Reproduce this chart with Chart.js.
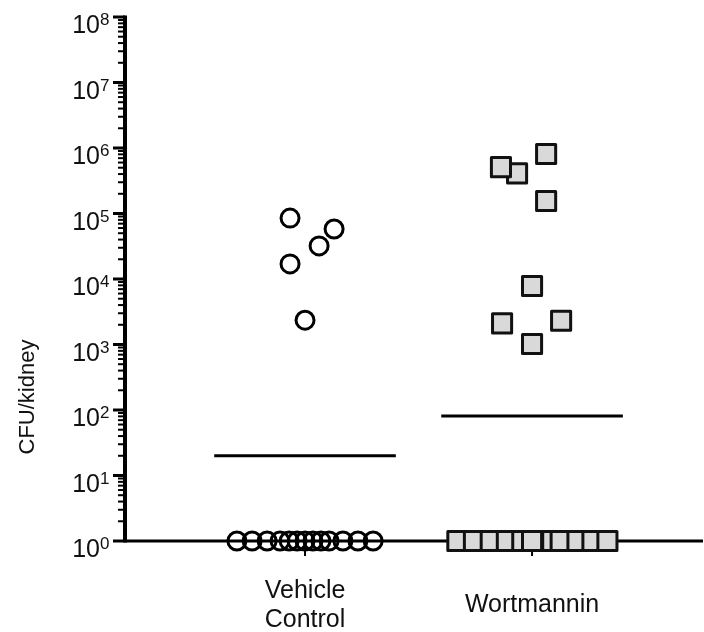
<!DOCTYPE html>
<html>
<head>
<meta charset="utf-8">
<script src="https://cdn.jsdelivr.net/npm/chart.js@4/dist/chart.umd.min.js"></script>
<style>
    html, body { margin: 0; padding: 0; background: #fff; overflow: hidden; }
    canvas { display: block; }
</style>
</head>
<body>
<canvas id="cfuChart" width="704" height="632"></canvas>
<script>
// Groups (x position 1 and 2 on a linear axis)
const groups = ['Vehicle\nControl', 'Wortmannin'];
const groupX = [1, 2];

// Vehicle control: mice with counts, and mice at the detection floor (10^0)
const vehicleX = [0.934, 1.128, 1.062, 0.934, 1.0];
const vehicleCfu = [85000, 58000, 32000, 17000, 2350];
const vehicleZeroX = [0.70, 0.767, 0.833, 0.89, 0.93, 0.965, 1.0, 1.035, 1.07, 1.106, 1.167, 1.233, 1.30];

// Wortmannin
const wortX = [1.934, 1.863, 2.062, 2.062, 2.0, 1.868, 2.128, 2.0];
const wortCfu = [410000, 510000, 810000, 155000, 7800, 2100, 2300, 1020];
const wortZeroX = [1.671, 1.744, 1.818, 1.889, 1.957, 2.0, 2.089, 2.126, 2.2, 2.266, 2.332];

// Group means (horizontal bars)
const groupMeans = [20, 81];
const meanHalfWidth = 0.4;

// Y decades for tick labels
const decades = [0, 1, 2, 3, 4, 5, 6, 7, 8];

const fontFamily = "'Liberation Sans', Arial, Helvetica, sans-serif";

const toPoints = (xs, ys) => xs.map((x, i) => ({ x: x, y: Array.isArray(ys) ? ys[i] : ys }));

// Axes drawn by hand so the log ticks and superscript labels look like the figure
const axesPlugin = {
    id: 'prismAxes',
    beforeDatasetsDraw(chart) {
        const ctx = chart.ctx;
        const xs = chart.scales.x;
        const ys = chart.scales.y;
        const left = chart.chartArea.left;
        const top = ys.getPixelForValue(1e8);
        const bottom = ys.getPixelForValue(1);

        ctx.save();
        ctx.strokeStyle = '#000';
        ctx.lineCap = 'butt';

        // minor + major ticks
        decades.forEach(n => {
            for (let k = 1; k <= 9; k++) {
                const v = k * Math.pow(10, n);
                if (v > 1e8) break;
                const py = ys.getPixelForValue(v);
                ctx.beginPath();
                ctx.lineWidth = k === 1 ? 3 : 2;
                ctx.moveTo(left - (k === 1 ? 12 : 7), py);
                ctx.lineTo(left, py);
                ctx.stroke();
            }
        });

        // y axis line
        ctx.beginPath();
        ctx.lineWidth = 4;
        ctx.moveTo(left, top - 1.5);
        ctx.lineTo(left, bottom + 1.5);
        ctx.stroke();

        // x axis line
        ctx.beginPath();
        ctx.lineWidth = 3;
        ctx.moveTo(left, bottom);
        ctx.lineTo(chart.chartArea.right, bottom);
        ctx.stroke();

        // category ticks
        groupX.forEach(g => {
            const px = xs.getPixelForValue(g);
            ctx.beginPath();
            ctx.lineWidth = 2;
            ctx.moveTo(px, bottom);
            ctx.lineTo(px, bottom + 15);
            ctx.stroke();
        });

        // y tick labels 10^n
        ctx.fillStyle = '#111';
        decades.forEach(n => {
            const py = ys.getPixelForValue(Math.pow(10, n));
            ctx.font = '25px ' + fontFamily;
            ctx.textAlign = 'right';
            ctx.textBaseline = 'alphabetic';
            ctx.fillText('10', 100, py + 16);
            ctx.font = '17px ' + fontFamily;
            ctx.textAlign = 'left';
            ctx.fillText(String(n), 100, py + 8);
        });

        // category labels
        ctx.font = '25px ' + fontFamily;
        ctx.textAlign = 'center';
        groups.forEach((label, i) => {
            const px = xs.getPixelForValue(groupX[i]);
            const lines = label.split('\n');
            if (lines.length === 1) {
                ctx.fillText(lines[0], px, 612);
            } else {
                lines.forEach((l, j) => ctx.fillText(l, px, 598 + j * 29));
            }
        });

        // y title
        ctx.save();
        ctx.translate(34, 397);
        ctx.rotate(-Math.PI / 2);
        ctx.font = '22px ' + fontFamily;
        ctx.textAlign = 'center';
        ctx.fillText('CFU/kidney', 0, 0);
        ctx.restore();

        ctx.restore();
        ctx.lineJoin = 'round';
    }
};

const circleStyle = {
    type: 'scatter',
    pointStyle: 'circle',
    pointRadius: 9,
    pointHoverRadius: 9,
    borderWidth: 3,
    borderColor: '#000',
    backgroundColor: 'rgba(0,0,0,0)',
    clip: false
};

const squareStyle = {
    type: 'scatter',
    pointStyle: 'rect',
    pointRadius: 13.5,
    pointHoverRadius: 13.5,
    borderWidth: 3,
    borderColor: '#111',
    backgroundColor: '#d9d9d9',
    clip: false
};

const meanLine = (i) => ({
    type: 'line',
    data: [
        { x: groupX[i] - meanHalfWidth, y: groupMeans[i] },
        { x: groupX[i] + meanHalfWidth, y: groupMeans[i] }
    ],
    borderColor: '#000',
    borderWidth: 3,
    pointRadius: 0,
    fill: false,
    clip: false
});

new Chart(document.getElementById('cfuChart'), {
    data: {
        datasets: [
            meanLine(0),
            meanLine(1),
            Object.assign({ data: toPoints(vehicleZeroX, 1) }, circleStyle),
            Object.assign({ data: toPoints(vehicleX, vehicleCfu) }, circleStyle),
            Object.assign({ data: toPoints(wortZeroX, 1) }, squareStyle),
            Object.assign({ data: toPoints(wortX, wortCfu) }, squareStyle)
        ]
    },
    plugins: [axesPlugin],
    options: {
        responsive: false,
        animation: false,
        devicePixelRatio: 1,
        layout: {
            autoPadding: false,
            padding: { left: 125, right: 1, top: 17, bottom: 91 }
        },
        scales: {
            x: {
                type: 'linear',
                min: 0.207,
                max: 2.753,
                display: false
            },
            y: {
                type: 'logarithmic',
                min: 1,
                max: 1e8,
                display: false
            }
        },
        plugins: {
            legend: { display: false },
            tooltip: { enabled: false }
        }
    }
});
</script>
</body>
</html>
